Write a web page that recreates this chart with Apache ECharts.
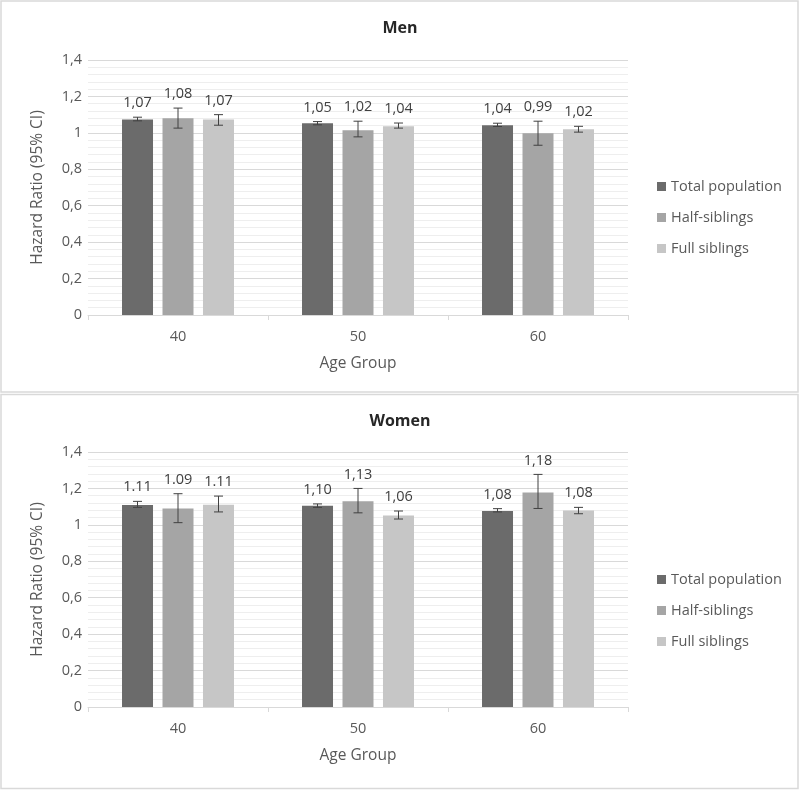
<!DOCTYPE html>
<html>
<head>
<meta charset="utf-8">
<script src="https://cdn.jsdelivr.net/npm/echarts@6/dist/echarts.min.js"></script>
<style>
html,body{margin:0;padding:0;background:#fff;}
#chart{width:800px;height:790px;}
</style>
</head>
<body>
<div id="chart"></div>
<script>
// ---- Data ----
const categories = ['40', '50', '60'];
const seriesNames = ['Total population', 'Half-siblings', 'Full siblings'];
const yTicks = [0, 0.2, 0.4, 0.6, 0.8, 1, 1.2, 1.4];

// Men
const menTotal     = [1.073, 1.053, 1.042];
const menTotalLow  = [1.066, 1.044, 1.035];
const menTotalHigh = [1.086, 1.062, 1.053];
const menHalf      = [1.080, 1.015, 0.998];
const menHalfLow   = [1.026, 0.978, 0.932];
const menHalfHigh  = [1.136, 1.064, 1.064];
const menFull      = [1.073, 1.036, 1.020];
const menFullLow   = [1.042, 1.026, 1.004];
const menFullHigh  = [1.100, 1.054, 1.036];
const menTotalLabels = ['1,07', '1,05', '1,04'];
const menHalfLabels  = ['1,08', '1,02', '0,99'];
const menFullLabels  = ['1,07', '1,04', '1,02'];

// Women
const womenTotal     = [1.109, 1.105, 1.076];
const womenTotalLow  = [1.096, 1.096, 1.071];
const womenTotalHigh = [1.129, 1.115, 1.089];
const womenHalf      = [1.090, 1.129, 1.177];
const womenHalfLow   = [1.012, 1.066, 1.090];
const womenHalfHigh  = [1.171, 1.200, 1.277];
const womenFull      = [1.110, 1.052, 1.079];
const womenFullLow   = [1.071, 1.032, 1.061];
const womenFullHigh  = [1.158, 1.076, 1.096];
const womenTotalLabels = ['1.11', '1,10', '1,08'];
const womenHalfLabels  = ['1.09', '1,13', '1,18'];
const womenFullLabels  = ['1.11', '1,06', '1,08'];

// ---- Styles ----
const colors = ['#6b6b6b', '#a5a5a5', '#c6c6c6'];
const FONT = '"Open Sans", "Liberation Sans", sans-serif';
const BAR_W = 31;
const BAR_GAP = 9.5;

function errRows(lows, highs) {
  const rows = [];
  lows.forEach((lowArr, k) => {
    lowArr.forEach((lo, i) => rows.push([i, k, lo, highs[k][i]]));
  });
  return rows;
}

function makeErrorSeries(gridIdx, lows, highs, labels) {
  const rows = errRows(lows, highs);
  const flatLabels = [];
  labels.forEach(arr => arr.forEach(l => flatLabels.push(l)));
  return {
    type: 'custom',
    name: 'err' + gridIdx,
    xAxisIndex: gridIdx,
    yAxisIndex: gridIdx,
    data: rows,
    encode: { x: 0, y: [2, 3] },
    z: 10,
    clip: false,
    silent: true,
    renderItem: function (params, api) {
      const cat = api.value(0);
      const k = api.value(1);
      const lo = api.coord([cat, api.value(2)]);
      const hi = api.coord([cat, api.value(3)]);
      const x = lo[0] + (k - 1) * (BAR_W + BAR_GAP);
      const cap = 4.5;
      const st = { stroke: '#404040', lineWidth: 1 };
      return {
        type: 'group',
        children: [
          { type: 'line', shape: { x1: x, y1: lo[1], x2: x, y2: hi[1] }, style: st },
          { type: 'line', shape: { x1: x - cap, y1: lo[1], x2: x + cap, y2: lo[1] }, style: st },
          { type: 'line', shape: { x1: x - cap, y1: hi[1], x2: x + cap, y2: hi[1] }, style: st },
          {
            type: 'text',
            style: {
              x: x, y: hi[1] - 14,
              text: flatLabels[params.dataIndex],
              align: 'center', verticalAlign: 'middle',
              fill: '#404040', fontSize: 14.5, fontFamily: FONT
            }
          }
        ]
      };
    }
  };
}

function barSeries(gridIdx, values) {
  return values.map((v, k) => ({
    type: 'bar',
    name: seriesNames[k],
    xAxisIndex: gridIdx,
    yAxisIndex: gridIdx,
    data: v,
    barWidth: BAR_W,
    barGap: (BAR_GAP / BAR_W * 100).toFixed(1) + '%',
    itemStyle: { color: colors[k] },
    silent: true
  }));
}

function xAxis(gridIdx) {
  return {
    type: 'category',
    gridIndex: gridIdx,
    data: categories,
    axisLine: { lineStyle: { color: '#d9d9d9', width: 1 } },
    axisTick: { show: true, length: 5, lineStyle: { color: '#d9d9d9' } },
    axisLabel: { color: '#595959', fontSize: 14.5, fontFamily: FONT, margin: 14 },
    name: 'Age Group',
    nameLocation: 'middle',
    nameGap: 49,
    nameTextStyle: { color: '#595959', fontSize: 15.5, fontFamily: FONT, verticalAlign: 'middle' }
  };
}

function yAxis(gridIdx) {
  return {
    type: 'value',
    gridIndex: gridIdx,
    min: yTicks[0],
    max: yTicks[yTicks.length - 1],
    interval: 0.2,
    axisLine: { show: false },
    axisTick: { show: false },
    axisLabel: {
      color: '#595959', fontSize: 14.5, fontFamily: FONT, margin: 6,
      formatter: v => (Math.round(v * 10) / 10).toString().replace('.', ',')
    },
    splitLine: { lineStyle: { color: '#d9d9d9', width: 1 } },
    minorTick: { show: false, splitNumber: 5 },
    minorSplitLine: { show: true, lineStyle: { color: '#eeeeee', width: 1 } },
    name: 'Hazard Ratio (95% CI)',
    nameLocation: 'middle',
    nameGap: 50,
    nameRotate: 90,
    nameTextStyle: { color: '#595959', fontSize: 15.5, fontFamily: FONT, verticalAlign: 'middle' }
  };
}

function legend(top) {
  return {
    orient: 'vertical',
    left: 657,
    top: top,
    padding: 0,
    itemWidth: 9,
    itemHeight: 9,
    itemGap: 14,
    icon: 'rect',
    data: seriesNames,
    selectedMode: false,
    textStyle: { color: '#595959', fontSize: 14.5, fontFamily: FONT, lineHeight: 17 }
  };
}

const chart = echarts.init(document.getElementById('chart'), null, { renderer: 'canvas' });
chart.setOption({
  animation: false,
  backgroundColor: '#ffffff',
  textStyle: { fontFamily: FONT },
  graphic: [
    { type: 'rect', shape: { x: 1, y: 1, width: 797, height: 391 }, style: { fill: 'none', stroke: '#d9d9d9', lineWidth: 1.5 }, silent: true, z: -1 },
    { type: 'rect', shape: { x: 1, y: 394.5, width: 797, height: 394 }, style: { fill: 'none', stroke: '#d9d9d9', lineWidth: 1.5 }, silent: true, z: -1 }
  ],
  title: [
    { text: 'Men', left: 'center', top: 15, textStyle: { color: '#262626', fontSize: 16, fontWeight: 'bold', fontFamily: FONT } },
    { text: 'Women', left: 'center', top: 408, textStyle: { color: '#262626', fontSize: 16, fontWeight: 'bold', fontFamily: FONT } }
  ],
  legend: [legend(178), legend(571)],
  grid: [
    { left: 88, top: 60, width: 540, height: 255 },
    { left: 88, top: 452, width: 540, height: 255 }
  ],
  xAxis: [xAxis(0), xAxis(1)],
  yAxis: [yAxis(0), yAxis(1)],
  series: [].concat(
    barSeries(0, [menTotal, menHalf, menFull]),
    barSeries(1, [womenTotal, womenHalf, womenFull]),
    [makeErrorSeries(0, [menTotalLow, menHalfLow, menFullLow], [menTotalHigh, menHalfHigh, menFullHigh],
                     [menTotalLabels, menHalfLabels, menFullLabels]),
     makeErrorSeries(1, [womenTotalLow, womenHalfLow, womenFullLow], [womenTotalHigh, womenHalfHigh, womenFullHigh],
                     [womenTotalLabels, womenHalfLabels, womenFullLabels])]
  )
});
</script>
</body>
</html>
